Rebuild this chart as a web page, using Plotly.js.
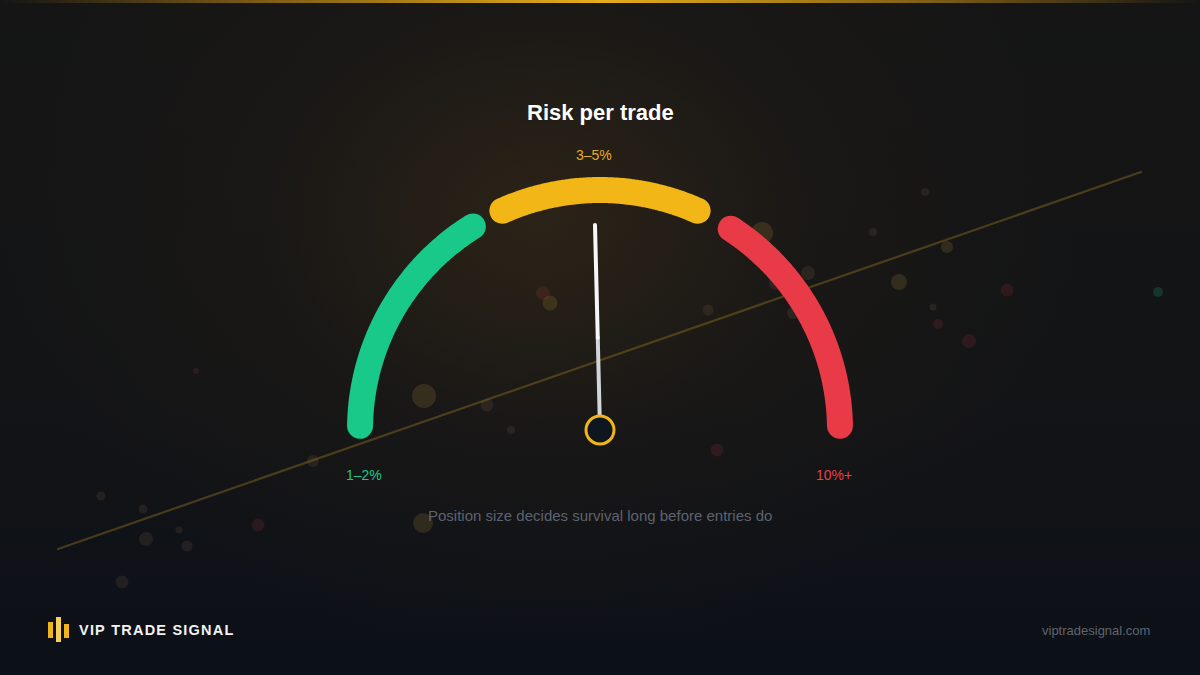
<!DOCTYPE html>
<html>
<head>
<meta charset="utf-8">
<script src="https://cdn.plot.ly/plotly-3.0.1.min.js"></script>
<style>
  html, body { margin:0; padding:0; width:1200px; height:675px; overflow:hidden; }
  body {
    background:
      radial-gradient(ellipse 540px 430px at 540px 220px, rgba(52,40,24,0.75) 0%, rgba(36,30,22,0.35) 50%, rgba(0,0,0,0) 100%),
      linear-gradient(180deg, #151515 0%, #131416 60%, #0c1018 100%);
    font-family: "Liberation Sans", Arial, sans-serif;
  }
  #topbar { position:absolute; left:0; top:0; width:1200px; height:3px;
    background: linear-gradient(90deg, rgba(120,90,20,0) 0%, rgba(180,130,20,0.6) 20%, #e6ad1c 50%, rgba(180,130,20,0.6) 80%, rgba(120,90,20,0) 100%); }
  #chart { position:absolute; left:0; top:0; width:1200px; height:675px; }
  .js-line { stroke-linecap: round !important; }
</style>
</head>
<body>
<div id="topbar"></div>
<div id="chart"></div>
<script>
// ---------- data ----------
const segmentLabels = ['1–2%', '3–5%', '10%+'];
const segmentStartDeg = [179, 114, 57];   // angle from the right-hand horizontal, counter-clockwise
const segmentEndDeg   = [122, 66, 1];
const segmentColors   = ['#19c98a', '#f2b617', '#e83a47'];
const needleAngleDeg  = 91.4;
const chartTitle = 'Risk per trade';
const subtitle = 'Position size decides survival long before entries do';
const brandName = 'VIP TRADE SIGNAL';
const brandUrl = 'viptradesignal.com';

// decorative bokeh dots (page pixels)
const bokehX    = [424, 487, 511, 550, 543, 708, 762, 808, 776, 793, 899, 925, 873, 947, 1007, 969, 938, 933, 1158, 717, 423, 313, 258, 187, 146, 143, 101, 179, 122, 196];
const bokehY    = [396, 405, 430, 303, 293, 310, 233, 273, 283, 313, 282, 192, 232, 247, 290, 341, 324, 307, 292, 450, 523, 461, 525, 546, 539, 509, 496, 530, 582, 371];
const bokehSize = [24, 13, 8, 15, 14, 11, 22, 14, 14, 12, 16, 8, 8, 12, 13, 14, 10, 7, 10, 13, 20, 12, 13, 11, 14, 9, 9, 7, 13, 6];
const bokehTone = ['g','b','b','g','r','b','g','b','b','b','g','b','b','g','r','r','r','b','t','r','g','b','r','b','b','b','b','b','b','r'];

// trend line across the background (page pixels)
const trendX = [58, 1141];
const trendY = [549, 172];

// ---------- geometry ----------
const CX = 600, CY = 430, R = 240;
const dx = p => p - CX;          // page px -> data x
const dy = p => CY - p;          // page px -> data y

const traces = [];

// bokeh
const toneColor = {g:'rgba(170,140,60,0.28)', b:'rgba(130,100,75,0.26)', r:'rgba(190,60,70,0.22)', t:'rgba(30,170,120,0.32)'};
traces.push({
  type:'scatter', mode:'markers', hoverinfo:'skip',
  x: bokehX.map(dx), y: bokehY.map(dy),
  marker:{size:bokehSize, color:bokehTone.map(t=>toneColor[t]), line:{width:0}}
});
// trend line
traces.push({
  type:'scatter', mode:'lines', hoverinfo:'skip',
  x: trendX.map(dx), y: trendY.map(dy),
  line:{color:'rgba(140,110,35,0.45)', width:2.2}
});

// gauge arcs
segmentLabels.forEach((lab, i) => {
  const a0 = segmentStartDeg[i], a1 = segmentEndDeg[i];
  const n = 90, xs = [], ys = [];
  for (let k = 0; k <= n; k++) {
    const a = (a0 + (a1 - a0) * k / n) * Math.PI / 180;
    xs.push(R * Math.cos(a)); ys.push(R * Math.sin(a));
  }
  traces.push({type:'scatter', mode:'lines', hoverinfo:'skip', x:xs, y:ys,
    line:{color:segmentColors[i], width:26, simplify:false, shape:'spline', smoothing:1}});
});

// needle
const na = needleAngleDeg * Math.PI / 180, NL = 205;
traces.push({type:'scatter', mode:'lines', hoverinfo:'skip',
  x:[0, 0.45*NL*Math.cos(na)], y:[0, 0.45*NL*Math.sin(na)],
  line:{color:'#d4d5d8', width:4}});
traces.push({type:'scatter', mode:'lines', hoverinfo:'skip',
  x:[0.45*NL*Math.cos(na), NL*Math.cos(na)], y:[0.45*NL*Math.sin(na), NL*Math.sin(na)],
  line:{color:'#f7f7f7', width:4}});
// hub
traces.push({type:'scatter', mode:'markers', hoverinfo:'skip', x:[0], y:[0],
  marker:{size:28, color:'#0e1620', line:{color:'#f0b41c', width:3}}});

// labels
const labelAnn = [
  {text:segmentLabels[0], x:dx(364), y:dy(475), color:segmentColors[0]},
  {text:segmentLabels[1], x:dx(594), y:dy(155), color:'#e6ae22'},
  {text:segmentLabels[2], x:dx(834), y:dy(475), color:'#e8424c'}
].map(l => ({text:l.text, x:l.x, y:l.y, xref:'x', yref:'y', showarrow:false,
  font:{family:'Liberation Sans, Arial, sans-serif', size:14, color:l.color}}));

const annotations = labelAnn.concat([
  {text:'<b>'+chartTitle+'</b>', x:0, y:dy(112), xref:'x', yref:'y', showarrow:false,
   font:{family:'Liberation Sans, Arial, sans-serif', size:22, color:'#ffffff'}},
  {text:subtitle, x:0, y:dy(515), xref:'x', yref:'y', showarrow:false,
   font:{family:'Liberation Sans, Arial, sans-serif', size:15, color:'#5c6370'}},
  {text:'<b>'+brandName.split('').join('\u200A')+'</b>', x:dx(77), y:dy(630), xref:'x', yref:'y', xanchor:'left', showarrow:false,
   font:{family:'Liberation Sans, Arial, sans-serif', size:14.5, color:'#f2f2f2'}},
  {text:brandUrl, x:dx(1152), y:dy(630), xref:'x', yref:'y', xanchor:'right', showarrow:false,
   font:{family:'Liberation Sans, Arial, sans-serif', size:13, color:'#5e6571'}}
]);

// logo bars
const logoX0 = [48, 56, 64], logoX1 = [53, 61, 69], logoY0 = [622, 617, 624], logoY1 = [638, 642, 638];
const logoColor = ['#f0b41c', '#f6cf5a', '#f0b41c'];
const shapes = logoX0.map((x0, i) => ({type:'rect', xref:'x', yref:'y',
  x0:dx(x0), x1:dx(logoX1[i]), y0:dy(logoY0[i]), y1:dy(logoY1[i]),
  fillcolor:logoColor[i], line:{width:0}, layer:'above'}));

const layout = {
  width:1200, height:675, margin:{l:0, r:0, t:0, b:0},
  paper_bgcolor:'rgba(0,0,0,0)', plot_bgcolor:'rgba(0,0,0,0)',
  showlegend:false,
  xaxis:{range:[-600, 600], visible:false, fixedrange:true},
  yaxis:{range:[CY-675, CY], visible:false, fixedrange:true},
  annotations, shapes
};
Plotly.newPlot('chart', traces, layout, {displayModeBar:false, staticPlot:true});
</script>
</body>
</html>
